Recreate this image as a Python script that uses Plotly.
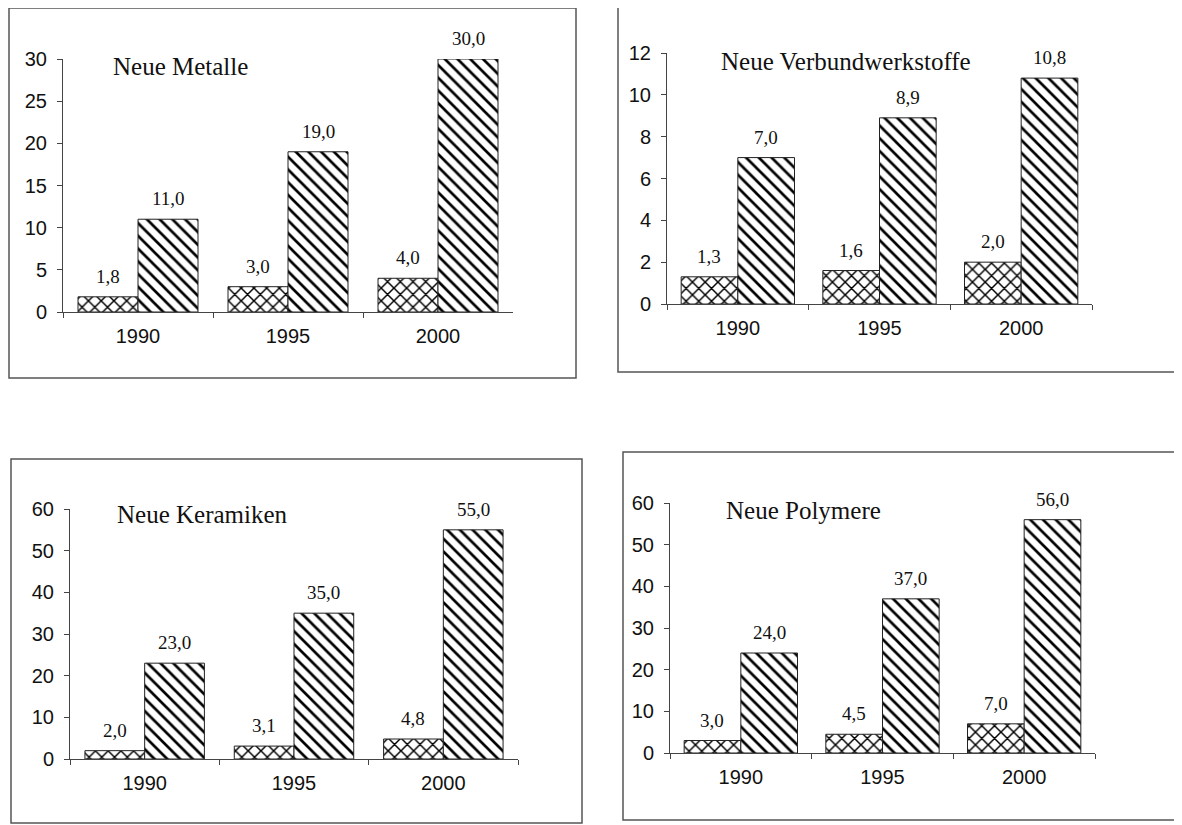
import plotly.graph_objects as go

W, H = 1182, 825
OFF = 8  # page body margin in the browser

years = ["1990", "1995", "2000"]

titles = ["Neue Metalle", "Neue Verbundwerkstoffe", "Neue Keramiken", "Neue Polymere"]
series_a = [
    [1.8, 3.0, 4.0],
    [1.3, 1.6, 2.0],
    [2.0, 3.1, 4.8],
    [3.0, 4.5, 7.0],
]
series_b = [
    [11.0, 19.0, 30.0],
    [7.0, 8.9, 10.8],
    [23.0, 35.0, 55.0],
    [24.0, 37.0, 56.0],
]
y_max = [30, 12, 60, 60]
y_dtick = [5, 2, 10, 10]

# layout in pixels: plot area (x0, x1, ytop, ybottom), frame (x0, x1, y0, y1), title centre
plot_px = [(63, 513, 59, 312), (667, 1092, 53, 304), (70, 518, 509, 759), (670, 1095, 503, 753)]
frame_px = [(9, 576, 8, 378), (618, 1186, 6, 372), (11, 582, 459, 823), (623, 1186, 452, 820)]
title_px = [(180, 66), (846, 62), (202, 515), (804, 510)]
BARGAP = 0.2


def px(x):
    return (x - OFF) / W


def py(y):
    return 1 - (y - OFF) / H


fig = go.Figure()
sans = "Liberation Sans, Arial, sans-serif"
serif = "Liberation Serif, Times New Roman, serif"

for i in range(4):
    sfx = "" if i == 0 else str(i + 1)
    xa, ya = "x" + sfx, "y" + sfx
    x0, x1, yt, yb = plot_px[i]
    bw = (x1 - x0) / len(years) * (1 - BARGAP) / 2
    for s, (vals, shape, size, sol) in enumerate([(series_a[i], "x", 9, 0.3),
                                                  (series_b[i], "\\", 9, 0.3)]):
        fig.add_trace(go.Bar(
            x=years, y=vals, xaxis=xa, yaxis=ya,
            marker=dict(color="white", line=dict(color="#222", width=1),
                        pattern=dict(shape=shape, fgcolor="#000", bgcolor="white",
                                     size=size, solidity=sol, fgopacity=1)),
            showlegend=False,
        ))
        for j, v in enumerate(vals):
            fig.add_annotation(
                x=j, y=v, xref=xa, yref=ya, text=f"{v:.1f}".replace(".", ","),
                showarrow=False, xanchor="center", yanchor="bottom",
                xshift=(s - 0.5) * bw, yshift=8,
                font=dict(family=serif, size=19, color="#111"),
            )
    axis_common = dict(showgrid=False, zeroline=False, showline=True, linecolor="#444",
                       linewidth=1, ticks="outside", tickcolor="#444", ticklen=5,
                       tickfont=dict(family=sans, size=20, color="#111"))
    fig.update_layout(**{
        ("xaxis" + sfx): dict(domain=[px(x0), px(x1)], anchor=ya, type="category",
                              categoryorder="array", categoryarray=years,
                              range=[-0.5, len(years) - 0.5], autorange=False,
                              tickson="boundaries", ticklabelstandoff=6, fixedrange=True,
                              automargin=False, **axis_common),
        ("yaxis" + sfx): dict(domain=[py(yb), py(yt)], anchor=xa, range=[0, y_max[i]],
                              dtick=y_dtick[i], ticklabelstandoff=6, fixedrange=True,
                              automargin=False, **axis_common),
    })
    fx0, fx1, fy0, fy1 = frame_px[i]
    if fx1 > W:
        path = f"M {px(fx1)},{py(fy0)} L {px(fx0)},{py(fy0)} L {px(fx0)},{py(fy1)} L {px(fx1)},{py(fy1)}"
        fig.add_shape(type="path", xref="paper", yref="paper", path=path,
                      line=dict(color="#555", width=1.5))
    else:
        fig.add_shape(type="rect", xref="paper", yref="paper",
                      x0=px(fx0), x1=px(fx1), y0=py(fy1), y1=py(fy0),
                      line=dict(color="#555", width=1.5))
    tx, ty = title_px[i]
    fig.add_annotation(text=titles[i], xref="paper", yref="paper", x=px(tx), y=py(ty),
                       xanchor="center", yanchor="middle", showarrow=False,
                       font=dict(family=serif, size=25, color="#111"))

fig.update_layout(
    width=W, height=H, margin=dict(l=0, r=0, t=0, b=0, autoexpand=False),
    paper_bgcolor="white", plot_bgcolor="white",
    barmode="group", bargap=BARGAP, bargroupgap=0,
)

fig.write_html("out.html")
